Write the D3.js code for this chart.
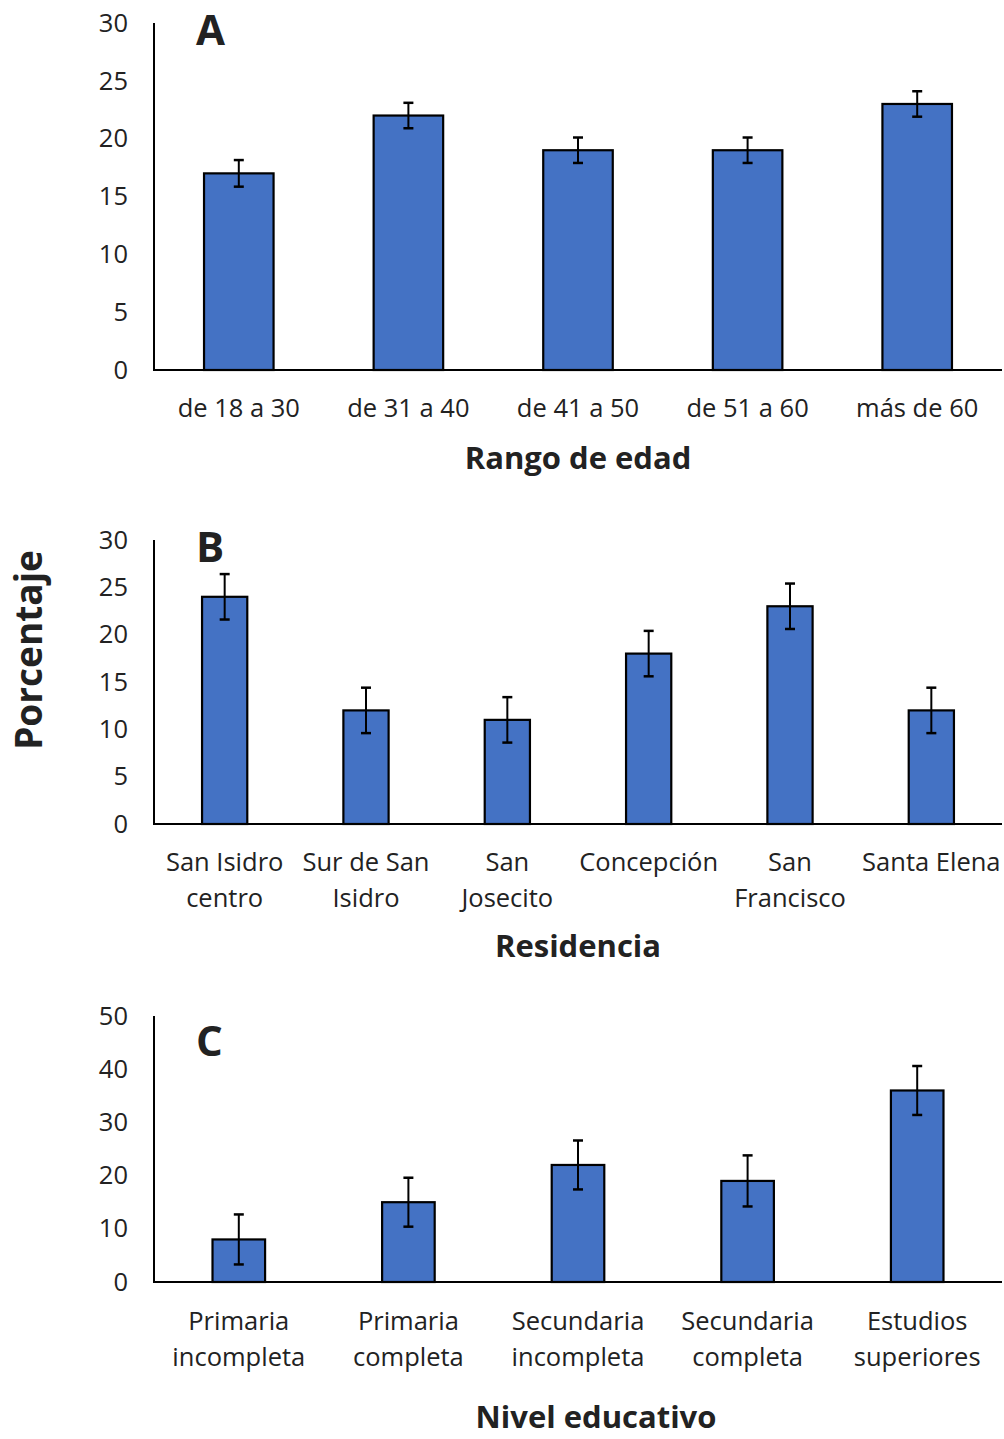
<!DOCTYPE html>
<html>
<head>
<meta charset="utf-8">
<script src="https://cdn.jsdelivr.net/npm/d3@7"></script>
<style>
  html, body { margin: 0; padding: 0; background: #fff; }
  svg { display: block; }
  text { font-family: "Open Sans", "Noto Sans", sans-serif; fill: #222; }
</style>
</head>
<body>
<svg id="chart" width="1004" height="1439"></svg>
<script>
// ---- Data ----
const catsA = ["de 18 a 30", "de 31 a 40", "de 41 a 50", "de 51 a 60", "más de 60"];
const valsA = [17, 22, 19, 19, 23];
const errA  = [1.15, 1.1, 1.1, 1.1, 1.1];
const ticksA = [0, 5, 10, 15, 20, 25, 30];

const catsB = ["San Isidro centro", "Sur de San Isidro", "San Josecito", "Concepción", "San Francisco", "Santa Elena"];
const labelsB = [["San Isidro", "centro"], ["Sur de San", "Isidro"], ["San", "Josecito"], ["Concepción"], ["San", "Francisco"], ["Santa Elena"]];
const valsB = [24, 12, 11, 18, 23, 12];
const errB  = [2.4, 2.4, 2.4, 2.4, 2.4, 2.4];
const ticksB = [0, 5, 10, 15, 20, 25, 30];

const catsC = ["Primaria incompleta", "Primaria completa", "Secundaria incompleta", "Secundaria completa", "Estudios superiores"];
const labelsC = [["Primaria", "incompleta"], ["Primaria", "completa"], ["Secundaria", "incompleta"], ["Secundaria", "completa"], ["Estudios", "superiores"]];
const valsC = [8, 15, 22, 19, 36];
const errC  = [4.7, 4.6, 4.6, 4.8, 4.6];
const ticksC = [0, 10, 20, 30, 40, 50];

const svg = d3.select("#chart");
const BAR = "#4472C4";

function panel(cfg) {
  const g = svg.append("g");
  const x = d3.scaleBand().domain(cfg.cats).range([154, 1002])
    .paddingInner(cfg.pad).paddingOuter(cfg.pad / 2);
  const y = d3.scaleLinear().domain([0, cfg.max]).range([cfg.y0, cfg.y1]);

  // bars
  g.selectAll("rect.bar").data(cfg.vals).enter().append("rect")
    .attr("x", (d, i) => x(cfg.cats[i]))
    .attr("y", d => y(d))
    .attr("width", x.bandwidth())
    .attr("height", d => y(0) - y(d))
    .attr("fill", BAR).attr("stroke", "#000").attr("stroke-width", 2.2);

  // error bars
  cfg.vals.forEach((v, i) => {
    const cx = x(cfg.cats[i]) + x.bandwidth() / 2;
    const e = cfg.err[i];
    g.append("line").attr("x1", cx).attr("x2", cx)
      .attr("y1", y(v + e)).attr("y2", y(v - e))
      .attr("stroke", "#000").attr("stroke-width", 2);
    [v + e, v - e].forEach(t => {
      g.append("line").attr("x1", cx - 5).attr("x2", cx + 5)
        .attr("y1", y(t)).attr("y2", y(t))
        .attr("stroke", "#000").attr("stroke-width", 2.5);
    });
  });

  // y axis
  const ya = d3.axisLeft(y).tickValues(cfg.ticks).tickSize(0).tickPadding(26);
  const yg = g.append("g").attr("transform", "translate(154,0)").call(ya);
  yg.select(".domain").remove();
  yg.selectAll("text").style("font-size", "25.5px").style("font-family", '"Open Sans", sans-serif').attr("fill", "#222");
  g.append("line").attr("x1", 154).attr("x2", 154).attr("y1", cfg.y1).attr("y2", cfg.y0 + 1)
    .attr("stroke", "#000").attr("stroke-width", 2);

  // x axis line
  g.append("line").attr("x1", 153).attr("x2", 1002).attr("y1", cfg.y0).attr("y2", cfg.y0)
    .attr("stroke", "#000").attr("stroke-width", 2.2);

  // x labels
  cfg.labels.forEach((lines, i) => {
    const cx = x(cfg.cats[i]) + x.bandwidth() / 2;
    const t = g.append("text").attr("text-anchor", "middle").style("font-size", "25.5px");
    lines.forEach((ln, j) => {
      t.append("tspan").attr("x", cx).attr("y", cfg.labY + j * cfg.lineH).text(ln);
    });
  });

  // axis title
  g.append("text").attr("x", cfg.titleX).attr("y", cfg.titleY).attr("text-anchor", "middle")
    .style("font-size", "31px").style("font-weight", "bold").attr("fill", "#111").text(cfg.title);

  // panel letter
  g.append("text").attr("x", 196).attr("y", cfg.letterY)
    .style("font-size", "42px").style("font-weight", "bold").attr("fill", "#111").text(cfg.letter);
}

panel({ cats: catsA, labels: catsA.map(c => [c]), vals: valsA, err: errA, ticks: ticksA, max: 30,
        y0: 370, y1: 23, pad: 0.59, labY: 417, lineH: 35, title: "Rango de edad", titleX: 578, titleY: 469,
        letter: "A", letterY: 45 });

panel({ cats: catsB, labels: labelsB, vals: valsB, err: errB, ticks: ticksB, max: 30,
        y0: 824, y1: 540, pad: 0.68, labY: 871, lineH: 36, title: "Residencia", titleX: 578, titleY: 957,
        letter: "B", letterY: 562 });

panel({ cats: catsC, labels: labelsC, vals: valsC, err: errC, ticks: ticksC, max: 50,
        y0: 1282, y1: 1016, pad: 0.69, labY: 1330, lineH: 36, title: "Nivel educativo", titleX: 596, titleY: 1428,
        letter: "C", letterY: 1056 });

// shared y title
svg.append("text").attr("transform", "translate(42,650) rotate(-90)").attr("text-anchor", "middle")
  .style("font-size", "37px").style("font-weight", "bold").attr("fill", "#111").text("Porcentaje");
</script>
</body>
</html>
